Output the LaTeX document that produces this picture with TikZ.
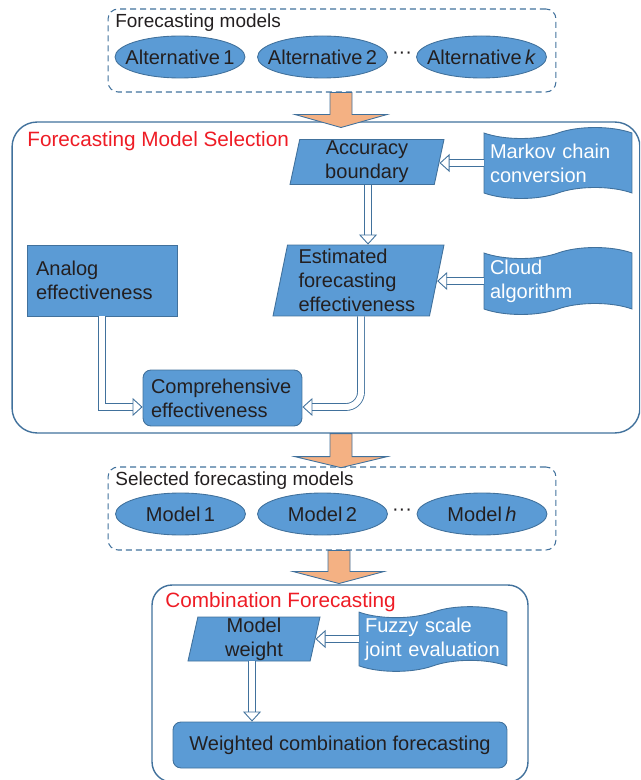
\documentclass[tikz,border=0pt]{standalone}
\usepackage{fontspec}
\setmainfont{Liberation Sans}
\usetikzlibrary{shapes.geometric,shapes.symbols,arrows.meta}
\definecolor{boxfill}{HTML}{5B9BD5}
\definecolor{boxline}{HTML}{41719C}
\definecolor{arrowfill}{HTML}{F4B183}
\definecolor{titlered}{HTML}{EE1C25}
\definecolor{textdark}{HTML}{231F20}
\tikzset{
  dashgroup/.style={draw=boxline, line width=0.6pt, dash pattern=on 0.12cm off 0.08cm, rounded corners=0.2cm, inner sep=0pt},
  stagebox/.style={draw=boxline, line width=0.8pt, inner sep=0pt},
  modeloval/.style={ellipse, draw=boxline, fill=boxfill, line width=0.5pt, minimum width=2.6cm, minimum height=0.84cm, inner xsep=-0.25cm, inner ysep=0pt, text=textdark},
  databox/.style={trapezium, trapezium left angle=77, trapezium right angle=103, trapezium stretches body, draw=boxline, fill=boxfill, line width=0.5pt, text=textdark, inner sep=0pt},
  sourcetape/.style={tape, tape bend height=0.22cm, draw=boxline, fill=boxfill, line width=0.5pt, text=white, align=left, text width=2.72cm, inner xsep=0.12cm, inner ysep=0pt, minimum width=2.96cm},
  procbox/.style={rectangle, draw=boxline, fill=boxfill, line width=0.5pt, text=textdark, align=left, inner ysep=0pt},
  grouptitle/.style={anchor=base west, inner sep=0pt, text=textdark, font=\fontsize{10.8}{13}\selectfont},
  stagetitle/.style={anchor=base west, inner sep=0pt, text=titlered, font=\fontsize{11.8}{14}\selectfont},
  bigarrow/.style={draw=boxline, fill=arrowfill, line width=0.5pt, line join=miter},
  hollow/.style={draw=boxline, line width=0.5pt, double=white, double distance=0.12cm, shorten >=0.18cm},
  hollowtip/.style={draw=white, line width=0.5pt, -{Triangle[fill=white, color=boxline, length=0.2cm, width=0.36cm]}}
}
\begin{document}
\begin{tikzpicture}[x=0.02cm, y=-0.02cm, every node/.style={font=\fontsize{11.4}{13.7}\selectfont}]
\clip (0,0) rectangle (640,780);

% Forecasting models group
\node[dashgroup, minimum width=8.96cm, minimum height=1.66cm] (models) at (332,50.5) {};
\node[grouptitle] (modelstitle) at (115,28) {Forecasting models};
\node[modeloval] (alt1) at (180,57) {Alternative\,1};
\node[modeloval] (alt2) at (322.5,57) {Alternative\,2};
\node[text=textdark] (altdots) at (402,55) {···};
\node[modeloval] (altk) at (481.5,57) {Alternative\,\textit{k}};

% Forecasting model selection stage
\node[stagebox, rounded corners=0.5cm, minimum width=12.56cm, minimum height=6.22cm] (selection) at (326,277.5) {};
\node[stagetitle] (selectiontitle) at (27,147) {Forecasting Model Selection};
\node[databox, align=center, minimum width=3.08cm, minimum height=0.9cm] (acc) at (367,162) {Accuracy\\boundary};
\node[sourcetape, minimum height=1.42cm] (markov) at (558,163) {Markov chain\\conversion};
\node[databox, align=left, text width=2.4cm, minimum width=3.42cm, minimum height=1.42cm] (est) at (358.5,280.5) {Estimated\\forecasting\\effectiveness};
\node[sourcetape, minimum height=1.34cm] (cloud) at (558,281) {Cloud\\algorithm};
\node[procbox, text width=2.64cm, inner xsep=0.18cm, minimum height=1.42cm] (analog) at (102,280.5) {Analog\\effectiveness};
\node[procbox, rounded corners=0.16cm, text width=2.86cm, inner xsep=0.16cm, minimum height=1.12cm] (comp) at (222.5,398) {Comprehensive\\effectiveness};

% Selected forecasting models group
\node[dashgroup, minimum width=8.96cm, minimum height=1.66cm] (selected) at (332,508.5) {};
\node[grouptitle] (selectedtitle) at (115,485) {Selected forecasting models};
\node[modeloval] (mod1) at (180.5,514) {Model\,1};
\node[modeloval] (mod2) at (322.5,514) {Model\,2};
\node[text=textdark] (moddots) at (402,512) {···};
\node[modeloval] (modh) at (482,514) {Model\,\textit{h}};

% Combination forecasting stage
\node[stagebox, rounded corners=0.4cm, minimum width=7.52cm, minimum height=3.94cm] (combination) at (340,683.5) {};
\node[stagetitle] (combinationtitle) at (165,607) {Combination Forecasting};
\node[databox, align=center, minimum width=2.64cm, minimum height=0.88cm] (weight) at (254,639) {Model\\weight};
\node[sourcetape, minimum height=1.16cm] (fuzzy) at (433,639) {Fuzzy scale\\joint evaluation};
\node[procbox, align=center, rounded corners=0.16cm, minimum width=6.68cm, minimum height=0.92cm] (wcf) at (340,745) {Weighted combination forecasting};

% Block arrows between stages
\draw[bigarrow] (models.south) ++(-2,0) -- ++(22,0) -- ++(0,22) -- ++(35,0) -- ++(-46,13) -- ++(-46,-13) -- ++(35,0) -- cycle;
\draw[bigarrow] (selection.south) ++(4,0) -- ++(22,0) -- ++(0,23) -- ++(35,0) -- ++(-46,11) -- ++(-46,-11) -- ++(35,0) -- cycle;
\draw[bigarrow] (selected.south) ++(-4,0) -- ++(22,0) -- ++(0,21) -- ++(34,0) -- ++(-45,12) -- ++(-46,-12) -- ++(35,0) -- cycle;

% Hollow arrows
\coordinate (accin) at (markov.west -| acc.east);
\draw[hollow] (markov.west) -- (accin);
\draw[hollowtip] ([xshift=0.3cm]accin) -- (accin);

\coordinate (estin) at ([xshift=0.19cm]est.north);
\draw[hollow] (acc.south -| estin) -- (estin);
\draw[hollowtip] ([yshift=0.3cm]estin) -- (estin);

\coordinate (estin2) at (cloud.west -| est.east);
\draw[hollow] (cloud.west) -- (estin2);
\draw[hollowtip] ([xshift=0.3cm]estin2) -- (estin2);

\coordinate (compinl) at ([yshift=-0.18cm]comp.west);
\draw[hollow] (analog.south) |- (compinl);
\draw[hollowtip] ([xshift=-0.3cm]compinl) -- (compinl);

\coordinate (compinr) at ([yshift=-0.18cm]comp.east);
\draw[hollow, rounded corners=0.3cm] ([xshift=0.05cm]est.south) |- (compinr);
\draw[hollowtip] ([xshift=0.3cm]compinr) -- (compinr);

\coordinate (weightin) at (fuzzy.west -| weight.east);
\draw[hollow] (fuzzy.west) -- (weightin);
\draw[hollowtip] ([xshift=0.3cm]weightin) -- (weightin);

\coordinate (wcfin) at ([xshift=-0.04cm]weight.south |- wcf.north);
\draw[hollow] (weight.south -| wcfin) -- (wcfin);
\draw[hollowtip] ([yshift=0.3cm]wcfin) -- (wcfin);
\end{tikzpicture}
\end{document}
